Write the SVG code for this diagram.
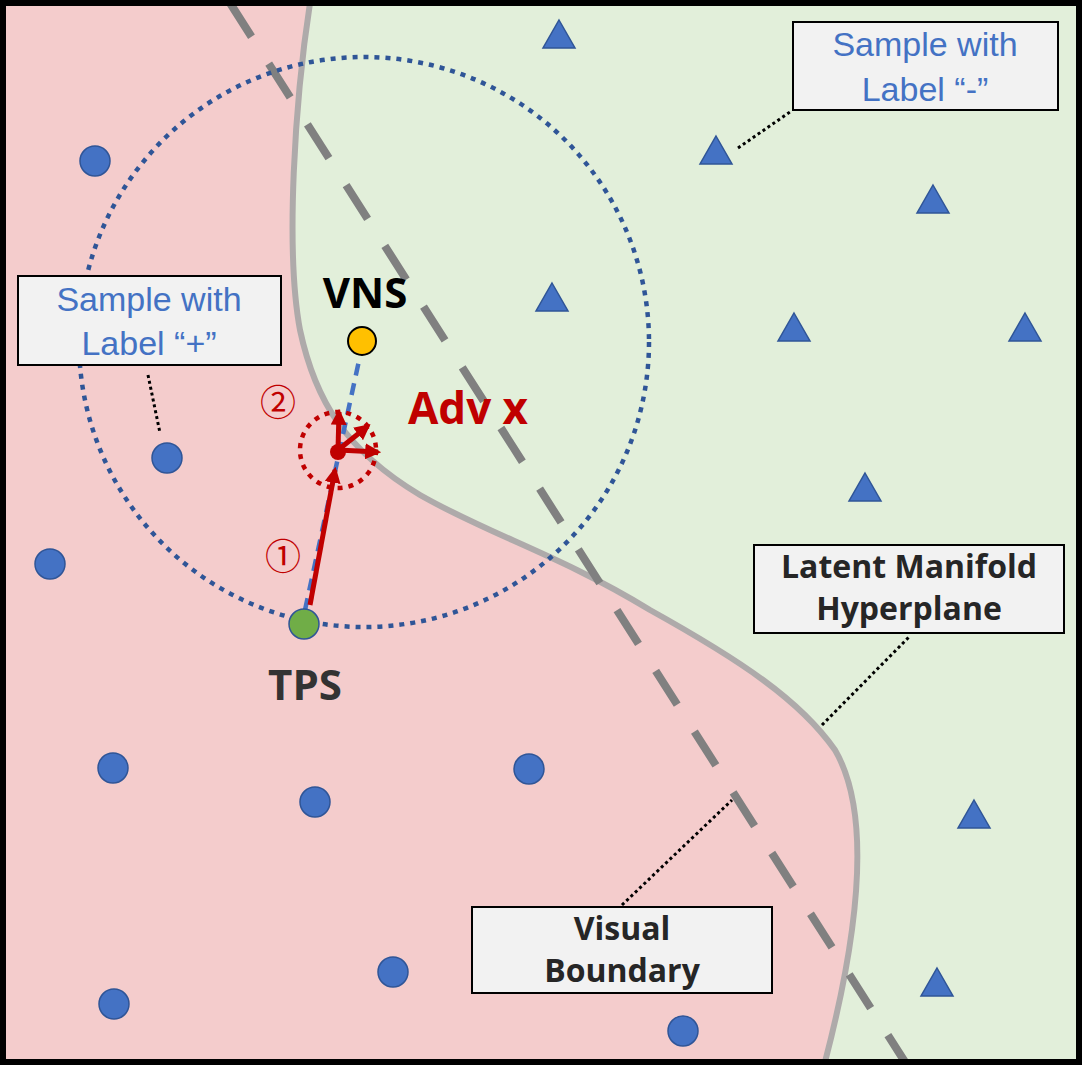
<svg xmlns="http://www.w3.org/2000/svg" width="1082" height="1070" viewBox="0 0 1082 1070">
<style>
.pt{fill:#4472C4;stroke:#2F5597;stroke-width:1.5}
.box{fill:#F2F2F2;stroke:#000;stroke-width:2}
.bl{font-family:"Liberation Sans",Arial,sans-serif;font-size:34px;fill:#4472C4;text-anchor:middle}
.bk{font-family:"Open Sans","Liberation Sans",sans-serif;font-weight:bold;font-size:32px;fill:#262626;text-anchor:middle}
.lead{stroke:#000;stroke-width:3;stroke-dasharray:3 3;fill:none}
.ra{stroke:#C00000;stroke-width:5;fill:none;marker-end:url(#ah)}
</style>
<defs>
<marker id="ah" viewBox="0 0 10 10" refX="8" refY="5" markerWidth="3.2" markerHeight="3.2" orient="auto"><path d="M0,0L10,5L0,10z" fill="#C00000"/></marker>
</defs>
<g id="background">
<rect x="3" y="3" width="1076" height="1059" fill="#F4CCCC"/>
<path d="M310,3 C295,100 285,250 300,330 C315,400 345,450 420,495 C490,535 560,555 650,610 C740,660 800,700 835,750 C870,810 862,920 825,1062 L1079,1062 L1079,3 Z" fill="#E2EFDA"/>
<path d="M310,3 C295,100 285,250 300,330 C315,400 345,450 420,495 C490,535 560,555 650,610 C740,660 800,700 835,750 C870,810 862,920 825,1062" fill="none" stroke="#AEAAAA" stroke-width="6"/>
<line x1="230" y1="3" x2="905" y2="1062" stroke="#808080" stroke-width="8" stroke-dasharray="40 32"/>
<circle cx="364" cy="342" r="285" fill="none" stroke="#2F5597" stroke-width="4.5" stroke-dasharray="5 6"/>
</g>
<g id="points">
<circle class="pt" cx="95" cy="161" r="15"/>
<circle class="pt" cx="167" cy="458" r="15"/>
<circle class="pt" cx="50" cy="564" r="15"/>
<circle class="pt" cx="113" cy="768" r="15"/>
<circle class="pt" cx="315" cy="802" r="15"/>
<circle class="pt" cx="529" cy="769" r="15"/>
<circle class="pt" cx="393" cy="972" r="15"/>
<circle class="pt" cx="114" cy="1004" r="15"/>
<circle class="pt" cx="683" cy="1031" r="15"/>
<path class="pt" d="M559,20 l16,28 h-32z M716,136 l16,28 h-32z M933,185 l16,28 h-32z M552,283 l16,28 h-32z M794,313 l16,28 h-32z M1025,313 l16,28 h-32z M865,473 l16,28 h-32z M974,800 l16,28 h-32z M937,968 l16,28 h-32z"/>
</g>
<g id="connectors">
<line x1="305" y1="610" x2="360" y2="356" stroke="#4472C4" stroke-width="4.5" stroke-dasharray="12 8"/>
<circle cx="338" cy="450" r="38" fill="none" stroke="#C00000" stroke-width="4.5" stroke-dasharray="5 6"/>
<line class="ra" x1="310" y1="605" x2="335" y2="470"/>
<line class="ra" x1="338" y1="450" x2="339" y2="412"/>
<line class="ra" x1="338" y1="450" x2="368" y2="426"/>
<line class="ra" x1="338" y1="450" x2="378" y2="452"/>
<circle cx="338" cy="452" r="8" fill="#C00000"/>
<path class="lead" d="M148,375 L160,433 M738,148 L790,112 M822,725 L910,636 M622,905 L732,800"/>
</g>
<g id="tps"><circle cx="304" cy="624" r="15" fill="#70AD47" stroke="#2F5597" stroke-width="1.5"/>
<text x="305" y="700" font-family="Open Sans,Liberation Sans,sans-serif" font-weight="bold" font-size="42" fill="#333" text-anchor="middle">TPS</text></g>
<g id="vns"><circle cx="362" cy="341" r="14" fill="#FFC000" stroke="#000" stroke-width="2"/>
<text x="365" y="308" font-family="Open Sans,Liberation Sans,sans-serif" font-weight="bold" font-size="42" fill="#000" text-anchor="middle">VNS</text></g>
<g id="labels" font-family="Liberation Sans,sans-serif" fill="#C00000">
<text x="468" y="424" font-family="Open Sans,Liberation Sans,sans-serif" font-weight="bold" font-size="44" text-anchor="middle">Adv x</text>
<text x="278" y="416" font-size="36" text-anchor="middle" font-family="Noto Sans CJK JP,sans-serif">②</text>
<text x="283" y="570" font-size="36" text-anchor="middle" font-family="Noto Sans CJK JP,sans-serif">①</text>
</g>
<g id="box-plus"><rect class="box" x="18" y="276" width="263" height="89"/>
<text class="bl" x="149" y="311">Sample with</text><text class="bl" x="149" y="355">Label “+”</text></g>
<g id="box-minus"><rect class="box" x="793" y="22" width="265" height="88"/>
<text class="bl" x="925" y="56">Sample with</text><text class="bl" x="925" y="101">Label “-”</text></g>
<g id="box-latent"><rect class="box" x="754" y="545" width="310" height="88"/>
<text class="bk" x="909" y="578">Latent Manifold</text><text class="bk" x="909" y="620">Hyperplane</text></g>
<g id="box-visual"><rect class="box" x="472" y="907" width="300" height="86"/>
<text class="bk" x="622" y="940">Visual</text><text class="bk" x="622" y="982">Boundary</text></g>
<rect x="3" y="3" width="1076" height="1059" fill="none" stroke="#000" stroke-width="6"/>
</svg>
